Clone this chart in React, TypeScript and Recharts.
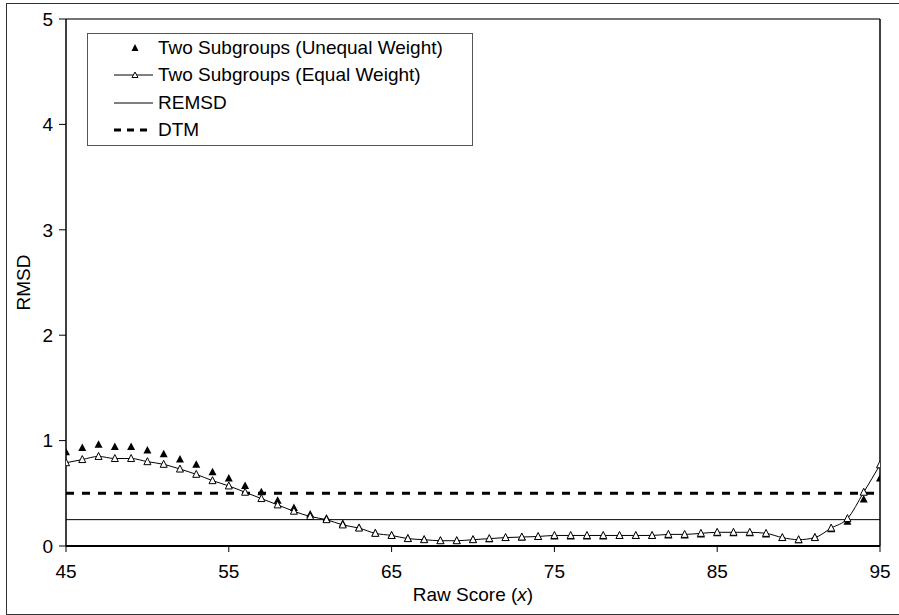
import {
  LineChart,
  Line,
  XAxis,
  YAxis,
  ReferenceLine,
  Label,
} from "recharts";

const rawScores = [
  45, 46, 47, 48, 49, 50, 51, 52, 53, 54, 55, 56, 57, 58, 59, 60, 61, 62, 63, 64,
  65, 66, 67, 68, 69, 70, 71, 72, 73, 74, 75, 76, 77, 78, 79, 80, 81, 82, 83, 84,
  85, 86, 87, 88, 89, 90, 91, 92, 93, 94, 95,
];

const unequalWeight = [
  0.89, 0.93, 0.96, 0.94, 0.94, 0.905, 0.87, 0.82, 0.77, 0.7, 0.64, 0.57, 0.51, 0.43, 0.36,
  0.3, 0.26, 0.21, 0.17, 0.12, 0.1, 0.07, 0.06, 0.05, 0.05, 0.06, 0.065, 0.075, 0.08, 0.085,
  0.09, 0.09, 0.09, 0.09, 0.095, 0.095, 0.095, 0.1, 0.1, 0.11, 0.12, 0.12, 0.12, 0.11, 0.075,
  0.055, 0.08, 0.16, 0.23, 0.44, 0.64,
];

const equalWeight = [
  0.79, 0.82, 0.85, 0.83, 0.83, 0.8, 0.775, 0.73, 0.68, 0.62, 0.57, 0.51, 0.45, 0.39, 0.33,
  0.28, 0.25, 0.2, 0.17, 0.12, 0.1, 0.07, 0.06, 0.05, 0.05, 0.06, 0.07, 0.08, 0.085, 0.09,
  0.1, 0.1, 0.1, 0.1, 0.1, 0.1, 0.1, 0.11, 0.11, 0.12, 0.13, 0.13, 0.13, 0.12, 0.08,
  0.06, 0.08, 0.17, 0.26, 0.51, 0.77,
];

const xTicks = [45, 55, 65, 75, 85, 95];
const yTicks = [0, 1, 2, 3, 4, 5];
const REMSD = 0.25;
const DTM = 0.5;

const legendItems = [
  { label: "Two Subgroups (Unequal Weight)", kind: "filled" },
  { label: "Two Subgroups (Equal Weight)", kind: "open" },
  { label: "REMSD", kind: "solid" },
  { label: "DTM", kind: "dashed" },
];

const data = rawScores.map((x, i) => ({
  x,
  unequal: unequalWeight[i],
  equal: equalWeight[i],
}));

const FONT = "'Liberation Sans', Arial, sans-serif";
const tickStyle = { fill: "#000", fontSize: 19, fontFamily: FONT };

const FilledTriangle = (props: any) => {
  const { cx, cy, index } = props;
  if (cx == null || cy == null) return <g key={`u-${index}`} />;
  return (
    <polygon
      key={`u-${index}`}
      points={`${cx},${cy - 4.5} ${cx - 4},${cy + 3} ${cx + 4},${cy + 3}`}
      fill="#000"
    />
  );
};

const OpenTriangle = (props: any) => {
  const { cx, cy, index } = props;
  if (cx == null || cy == null) return <g key={`e-${index}`} />;
  return (
    <polygon
      key={`e-${index}`}
      points={`${cx},${cy - 4} ${cx - 3.5},${cy + 3} ${cx + 3.5},${cy + 3}`}
      fill="#fff"
      stroke="#000"
      strokeWidth={1}
    />
  );
};

const LegendBox = () => (
  <div
    style={{
      position: "absolute",
      left: 87,
      top: 33,
      width: 384,
      height: 111,
      border: "1px solid #555",
      background: "#fff",
      fontFamily: FONT,
      fontSize: 19,
      color: "#000",
    }}
  >
    {legendItems.map((item) => (
      <div key={item.label} style={{ display: "flex", alignItems: "center", height: 27.5 }}>
        <svg width={70} height={20} style={{ flex: "none" }}>
          {item.kind === "filled" && (
            <polygon points="47,6 43.5,13 50.5,13" fill="#000" />
          )}
          {item.kind === "open" && (
            <>
              <line x1={26} x2={65} y1={10} y2={10} stroke="#000" strokeWidth={1} />
              <polygon points="47,7 44,12.5 50,12.5" fill="#fff" stroke="#000" strokeWidth={1} />
            </>
          )}
          {item.kind === "solid" && (
            <line x1={26} x2={65} y1={10} y2={10} stroke="#000" strokeWidth={1} />
          )}
          {item.kind === "dashed" && (
            <line x1={26} x2={65} y1={10} y2={10} stroke="#000" strokeWidth={3} strokeDasharray="7 6" />
          )}
        </svg>
        <span style={{ whiteSpace: "nowrap" }}>{item.label}</span>
      </div>
    ))}
  </div>
);

const XTitle = (props: any) => {
  const vb = props.viewBox || {};
  const cx = vb.x + vb.width / 2;
  return (
    <text x={cx} y={601} textAnchor="middle" fill="#000" fontSize={19} fontFamily={FONT}>
      Raw Score (<tspan fontStyle="italic">x</tspan>)
    </text>
  );
};

const YTitle = (props: any) => {
  const vb = props.viewBox || {};
  const cy = vb.y + vb.height / 2;
  return (
    <text
      x={30}
      y={cy}
      transform={`rotate(-90, 30, ${cy})`}
      textAnchor="middle"
      fill="#000"
      fontSize={19}
      fontFamily={FONT}
    >
      RMSD
    </text>
  );
};

export default function App() {
  return (
    <div style={{ position: "absolute", left: 0, top: 0, width: 899, height: 615, background: "#fff", overflow: "hidden" }}>
      {/* outer chart frame */}
      <div
        style={{
          position: "absolute",
          left: 6,
          top: 3,
          width: 900,
          height: 610,
          border: "1px solid #333",
        }}
      />
      <div style={{ position: "absolute", left: 0, top: 0 }}>
        <LineChart
          width={899}
          height={615}
          data={data}
          margin={{ top: 19, right: 19, bottom: 39, left: 26 }}
        >
          <XAxis
            dataKey="x"
            type="number"
            domain={[45, 95]}
            ticks={xTicks}
            allowDataOverflow
            height={30}
            tick={tickStyle}
            tickSize={6}
            tickMargin={13}
            axisLine={{ stroke: "#000", strokeWidth: 2 }}
            tickLine={{ stroke: "#000" }}
          >
            <Label content={<XTitle />} />
          </XAxis>
          <YAxis
            type="number"
            domain={[0, 5]}
            ticks={yTicks}
            width={40}
            tick={tickStyle}
            tickSize={7}
            tickMargin={6}
            axisLine={{ stroke: "#000", strokeWidth: 1.5 }}
            tickLine={{ stroke: "#000" }}
          >
            <Label content={<YTitle />} />
          </YAxis>
          {/* plot area frame (top and right) */}
          <ReferenceLine y={5} stroke="#444" strokeWidth={1.5} />
          <ReferenceLine x={95} stroke="#000" strokeWidth={1.5} />
          <ReferenceLine y={REMSD} stroke="#000" strokeWidth={1} />
          <ReferenceLine y={DTM} stroke="#000" strokeWidth={3} strokeDasharray="8 8" />
          <Line
            dataKey="unequal"
            stroke="none"
            dot={FilledTriangle}
            activeDot={false}
            isAnimationActive={false}
          />
          <Line
            dataKey="equal"
            type="monotone"
            stroke="#000"
            strokeWidth={1}
            dot={OpenTriangle}
            activeDot={false}
            isAnimationActive={false}
          />
        </LineChart>
      </div>
      <LegendBox />
    </div>
  );
}
